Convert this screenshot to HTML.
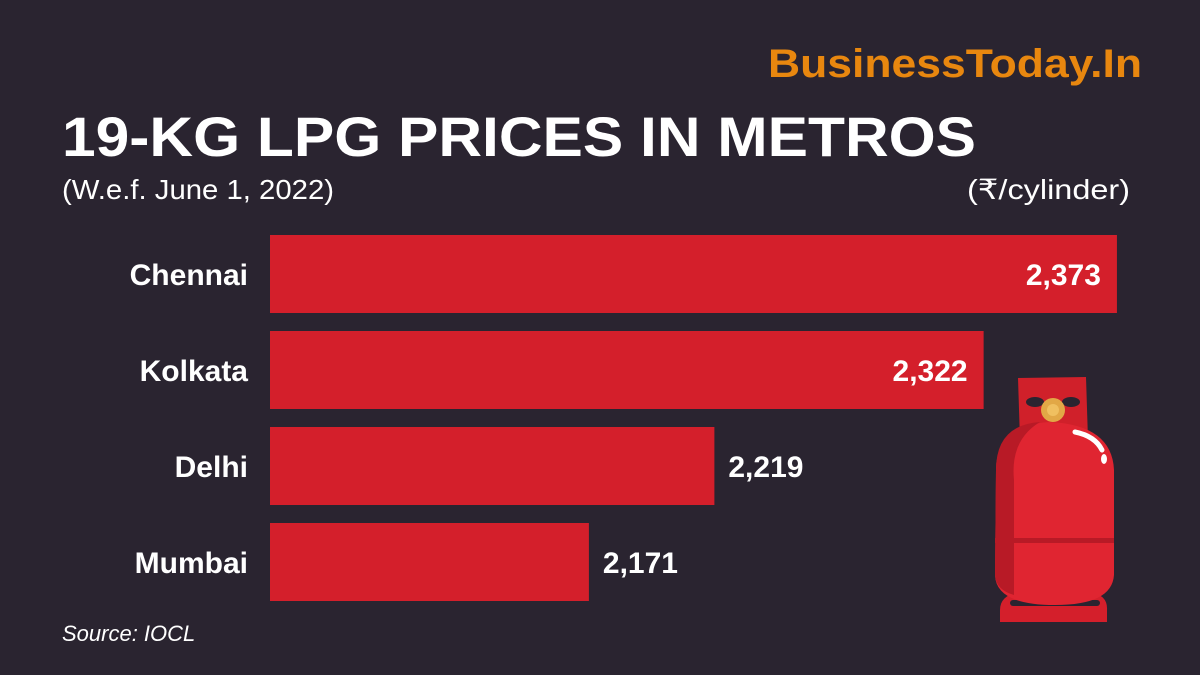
<!DOCTYPE html>
<html><head><meta charset="utf-8"><style>
html,body{margin:0;padding:0;background:#2a2430;}
svg{display:block;font-family:"Liberation Sans",sans-serif;}
</style></head><body>
<svg id="chart" width="1200" height="675" viewBox="0 0 1200 675" xmlns="http://www.w3.org/2000/svg">
<rect width="1200" height="675" fill="#2a2430"/>
<text x="1142" y="77" text-anchor="end" font-size="40" font-weight="bold" fill="#e8870f" textLength="374" lengthAdjust="spacingAndGlyphs">BusinessToday.In</text>
<text x="62" y="156" font-size="56" font-weight="bold" fill="#ffffff" textLength="914" lengthAdjust="spacingAndGlyphs">19-KG LPG PRICES IN METROS</text>
<text x="62" y="199" font-size="28" fill="#ffffff" textLength="272" lengthAdjust="spacingAndGlyphs">(W.e.f. June 1, 2022)</text>
<text x="1130" y="199" text-anchor="end" font-size="28" fill="#ffffff" textLength="163" lengthAdjust="spacingAndGlyphs">(₹/cylinder)</text>
<g id="bars"></g>
<g>
<path d="M1018 378 L1086 377 L1088 440 L1020 440 Z" fill="#d0202a"/>
<ellipse cx="1035" cy="402" rx="9" ry="5" fill="#2a2430"/>
<ellipse cx="1071" cy="402" rx="9" ry="5" fill="#2a2430"/>
<circle cx="1053" cy="410" r="12" fill="#e2a846"/>
<circle cx="1053" cy="410" r="6" fill="#f0c060"/>
<path d="M1000 610 Q1000 595 1020 592 L1090 592 Q1108 595 1107 610 L1107 622 L1000 622 Z" fill="#d41f2b"/>
<rect x="1010" y="600" width="90" height="6" rx="3" fill="#2a2430"/>
<path d="M996 470 Q996 425 1050 422 Q1112 425 1114 470 L1114 575 Q1112 605 1055 605 Q996 605 995 575 Z" fill="#e02531"/>
<path d="M996 470 Q996 425 1040 422 Q1010 440 1014 480 L1014 595 Q996 590 995 575 Z" fill="#b81a26"/>
<rect x="995" y="538" width="119" height="5" fill="#b81a26"/>
<path d="M1075 432 Q1095 436 1102 450" stroke="#fff" stroke-width="5" fill="none" stroke-linecap="round"/>
<ellipse cx="1104" cy="459" rx="3" ry="5" fill="#fff"/>
</g>
<text x="62" y="641" font-size="22" font-style="italic" fill="#ffffff">Source: IOCL</text>
</svg>
<script>
const cities = ["Chennai", "Kolkata", "Delhi", "Mumbai"];
const prices = [2373, 2322, 2219, 2171];
const labels = ["2,373", "2,322", "2,219", "2,171"];
const domainMin = 2049;
const x0 = 270, pxPerUnit = 2.614, y0 = 235, pitch = 96, bh = 78;
const xs = v => x0 + (v - domainMin) * pxPerUnit;
const NS = "http://www.w3.org/2000/svg";
const g = document.getElementById("bars");
cities.forEach((c, i) => {
  const y = y0 + i * pitch, xe = xs(prices[i]), w = xe - x0;
  const r = document.createElementNS(NS, "rect");
  r.setAttribute("x", x0); r.setAttribute("y", y); r.setAttribute("width", w); r.setAttribute("height", bh);
  r.setAttribute("fill", "#d41f2b");
  
  
  g.appendChild(r);
  const t = document.createElementNS(NS, "text");
  t.setAttribute("x", 248); t.setAttribute("y", y + bh / 2 + 11);
  t.setAttribute("text-anchor", "end"); t.setAttribute("font-size", "30"); t.setAttribute("font-weight", "bold");
  t.setAttribute("fill", "#fff"); t.textContent = c;
  
  
  g.appendChild(t);
  const v = document.createElementNS(NS, "text");
  const inside = w > 600;
  v.setAttribute("x", inside ? xe - 16 : xe + 14); v.setAttribute("y", y + bh / 2 + 11);
  v.setAttribute("text-anchor", inside ? "end" : "start");
  v.setAttribute("font-size", "30"); v.setAttribute("font-weight", "bold"); v.setAttribute("fill", "#fff");
  v.textContent = labels[i];
  
  
  g.appendChild(v);
});
</script>
</body></html>
